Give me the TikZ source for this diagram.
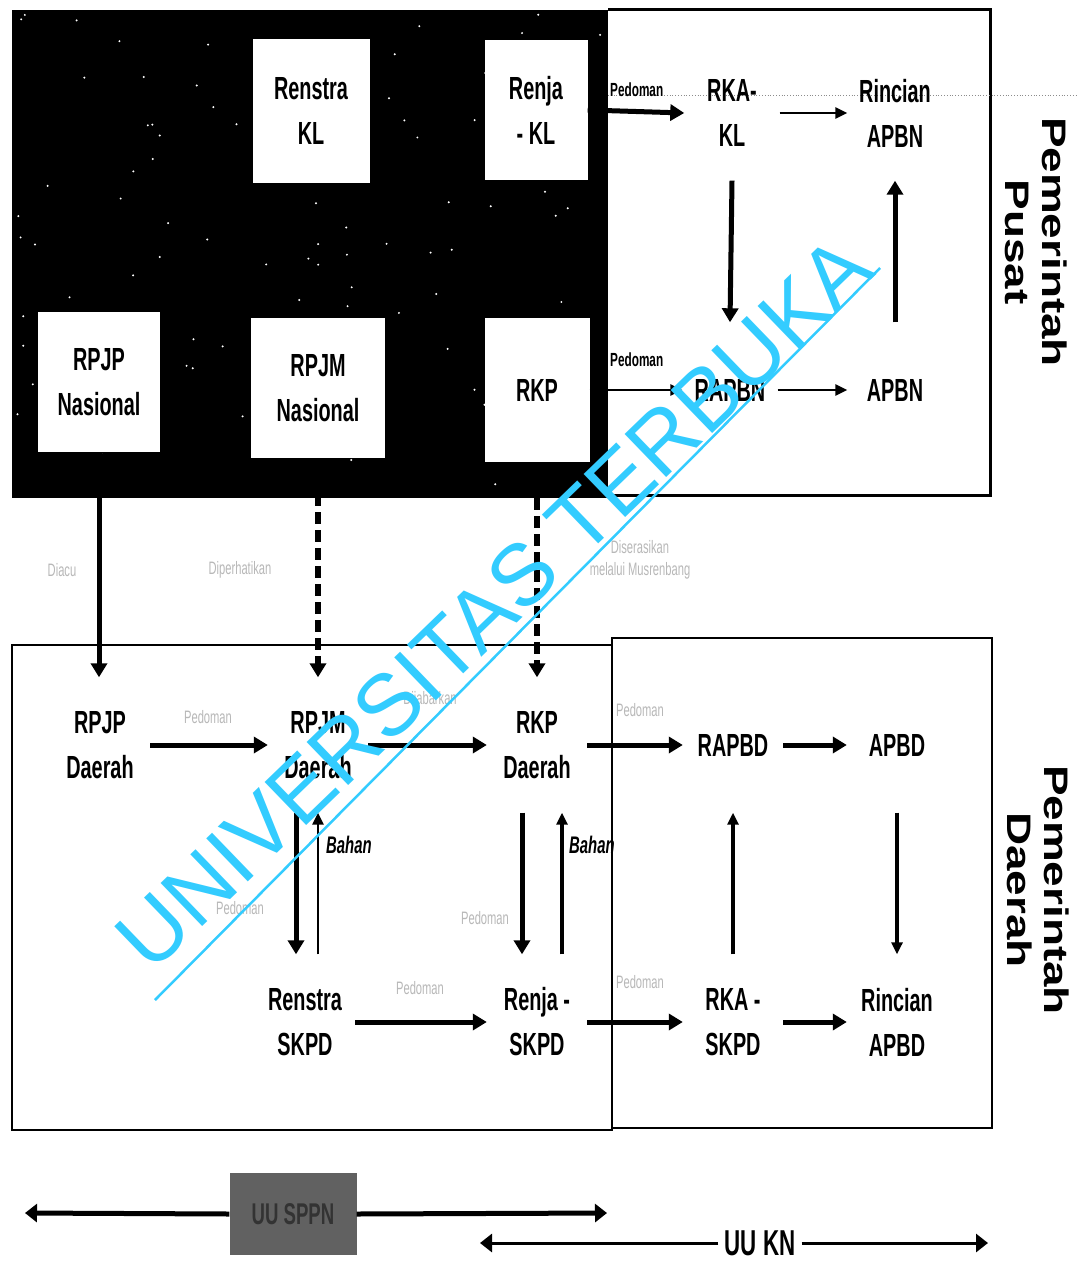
\documentclass[tikz,border=0pt]{standalone}
\usepackage{fontspec}
\setmainfont{Liberation Sans}
\newfontfamily\cf[FakeStretch=0.62]{Liberation Sans}
\newfontfamily\wf[FakeStretch=1.35]{Liberation Sans}
\usetikzlibrary{arrows.meta,calc}
\definecolor{wmcyan}{RGB}{51,204,255}
\tikzset{
  lbl/.style={font=\cf\bfseries\fontsize{32}{45}\selectfont, align=center, inner sep=0pt},
  wbox/.style={lbl, fill=white},
  tnode/.style={lbl, minimum width=95pt, minimum height=135pt},
  bigarrow/.style={line width=5pt, -{Triangle[length=14pt,width=16pt]}},
  thinarrow/.style={line width=2.5pt, -{Triangle[length=12pt,width=11pt]}},
  dasharrow/.style={line width=6pt, dash pattern=on 12pt off 6pt, -{Triangle[length=14pt,width=16pt]}},
  edgelbl/.style={font=\cf\bfseries\fontsize{19}{22}\selectfont, inner sep=1pt},
  faint/.style={font=\cf\fontsize{18}{22}\selectfont, text=black!28, align=center, inner sep=1pt},
  bahan/.style={font=\cf\bfseries\itshape\fontsize{24}{26}\selectfont, inner sep=1pt},
  side/.style={font=\wf\bfseries\fontsize{34}{37}\selectfont, align=center, rotate=-90, inner sep=0pt},
  frame/.style={draw=black, line width=2pt},
}
\begin{document}
\begin{tikzpicture}[x=1pt,y=-1pt]
\useasboundingbox (0,0) rectangle (1076,1263);
\fill[white] (0,0) rectangle (1076,1263);

% ---------- top: national level ----------
\fill[black] (12,10) rectangle (608,498);
\pgfmathsetseed{11}
\foreach \i in {1,...,90} {
  \fill[white] ({14+592*rnd},{12+484*rnd}) circle (1.1pt);
}
\draw[frame, line width=3pt] (608,10) -- (990,10) -- (990,495) -- (608,495);
\draw[black!45, line width=0.8pt, dotted] (608,95) -- (1076,95);

\node[wbox, minimum width=117pt, minimum height=143pt] (renstrakl) at (311,111) {Renstra\\KL};
\node[wbox, minimum width=103pt, minimum height=140pt] (renjakl) at (536,110) {Renja\\- KL};
\node[wbox, minimum width=122pt, minimum height=140pt] (rpjpnas) at (99,382) {RPJP\\Nasional};
\node[wbox, minimum width=134pt, minimum height=140pt] (rpjmnas) at (318,388) {RPJM\\Nasional};
\node[wbox, minimum width=105pt, minimum height=144pt] (rkp) at (537,390) {RKP};

\node[tnode] (rkakl) at (732,113) {RKA-\\KL};
\node[tnode] (rincianapbn) at (895,113) {Rincian\\APBN};
\node[tnode] (rapbn) at (730,390) {RAPBN};
\node[tnode] (apbn) at (895,390) {APBN};

\draw[bigarrow] (renjakl.east) -- (rkakl.west);
\node[edgelbl, anchor=south west] (lpedkl) at (609,98) {Pedoman};
\draw[thinarrow] (rkakl.east) -- (rincianapbn.west);
\draw[bigarrow] (rkakl.south) -- (rapbn.north);
\draw[bigarrow] (apbn.north) -- (rincianapbn.south);
\draw[thinarrow] (rkp.east) -- (rapbn.west);
\node[edgelbl, anchor=south west] (lpedrkp) at (609,368) {Pedoman};
\draw[thinarrow] (rapbn.east) -- (apbn.west);

\node[side] (pusat) at (1036,242) {Pemerintah\\Pusat};

% ---------- bottom: regional level ----------
\draw[frame] (12,645) rectangle (612,1130);
\draw[frame] (612,638) rectangle (992,1128);

\node[tnode, minimum width=100pt] (rpjpd) at (100,745) {RPJP\\Daerah};
\node[tnode, minimum width=100pt] (rpjmd) at (318,745) {RPJM\\Daerah};
\node[tnode, minimum width=100pt] (rkpd) at (537,745) {RKP\\Daerah};
\node[tnode, minimum width=100pt] (rapbd) at (733,745) {RAPBD};
\node[tnode, minimum width=100pt] (apbd) at (897,745) {APBD};
\node[tnode, minimum width=100pt] (renstraskpd) at (305,1022) {Renstra\\SKPD};
\node[tnode, minimum width=100pt] (renjaskpd) at (537,1022) {Renja -\\SKPD};
\node[tnode, minimum width=100pt] (rkaskpd) at (733,1022) {RKA -\\SKPD};
\node[tnode, minimum width=100pt] (rincianapbd) at (897,1022) {Rincian\\APBD};

% vertical links national -> regional
\draw[bigarrow] (rpjpnas.south) -- (rpjpnas.south |- rpjpd.north);
\draw[dasharrow] (rpjmnas.south) -- (rpjmnas.south |- rpjmd.north);
\draw[dasharrow] (rkp.south) -- (rkp.south |- rkpd.north);
\node[faint] (ldiacu) at (62,570) {Diacu};
\node[faint] (ldiper) at (240,570) {Diperhatikan};
\node[faint] (ldiser) at (640,560) {Diserasikan\\melalui Musrenbang};

% horizontal regional
\draw[bigarrow] (rpjpd.east) -- (rpjmd.west);
\node[faint] (lp1) at (208,717) {Pedoman};
\draw[bigarrow] (rpjmd.east) -- (rkpd.west);
\node[faint] (lp2) at (430,700) {Dijabarkan};
\draw[bigarrow] (rkpd.east) -- (rapbd.west);
\node[faint] (lp3) at (640,710) {Pedoman};
\draw[bigarrow] (rapbd.east) -- (apbd.west);

\draw[bigarrow] (renstraskpd.east) -- (renjaskpd.west);
\node[faint] (lp4) at (420,988) {Pedoman};
\draw[bigarrow] (renjaskpd.east) -- (rkaskpd.west);
\node[faint] (lp5) at (640,982) {Pedoman};
\draw[bigarrow] (rkaskpd.east) -- (rincianapbd.west);

% vertical regional
\draw[bigarrow] ([xshift=-22pt]rpjmd.south) -- ([xshift=-22pt]rpjmd.south |- renstraskpd.north);
\draw[thinarrow] ([xshift=13pt]renstraskpd.north) -- ([xshift=13pt]renstraskpd.north |- rpjmd.south);
\node[bahan, anchor=west] (lb1) at (325,845) {Bahan};
\node[faint] (lp6) at (240,908) {Pedoman};
\draw[bigarrow] ([xshift=-15pt]rkpd.south) -- ([xshift=-15pt]rkpd.south |- renjaskpd.north);
\draw[thinarrow, line width=3.5pt] ([xshift=25pt]renjaskpd.north) -- ([xshift=25pt]renjaskpd.north |- rkpd.south);
\node[bahan, anchor=west] (lb2) at (568,845) {Bahan};
\node[faint] (lp7) at (485,918) {Pedoman};
\draw[thinarrow, line width=3.5pt] (rkaskpd.north) -- (rapbd.south);
\draw[thinarrow, line width=3.5pt] (apbd.south) -- (rincianapbd.north);

\node[side] (daerah) at (1038,890) {Pemerintah\\Daerah};

% ---------- legend ----------
\node[fill=black!62, minimum width=127pt, minimum height=82pt, inner sep=0pt,
      font=\cf\bfseries\fontsize{30}{32}\selectfont, text=black!80] (sppn) at (293,1214) {UU SPPN};
\coordinate (sppnL) at (25,1213);
\coordinate (sppnR) at (607,1213);
\draw[line width=5pt, -{Triangle[length=12pt,width=18pt]}] (sppn.west) -- (sppnL);
\draw[line width=5pt, -{Triangle[length=12pt,width=18pt]}] (sppn.east) -- (sppnR);

\node[fill=white, inner sep=6pt, font=\cf\bfseries\fontsize{36}{38}\selectfont] (uukn) at (760,1243) {UU KN};
\coordinate (uuknL) at (480,1243);
\coordinate (uuknR) at (988,1243);
\draw[line width=3pt, -{Triangle[length=12pt,width=18pt]}] (uukn.west) -- (uuknL);
\draw[line width=3pt, -{Triangle[length=12pt,width=18pt]}] (uukn.east) -- (uuknR);

% ---------- watermark ----------
\node[text=wmcyan, font=\fontsize{87}{87}\selectfont, rotate=44, inner sep=0pt] (wm) at (494,603) {UNIVERSITAS TERBUKA};
\draw[wmcyan, line width=2.5pt] (155,1000) -- (880,268);
\end{tikzpicture}
\end{document}
